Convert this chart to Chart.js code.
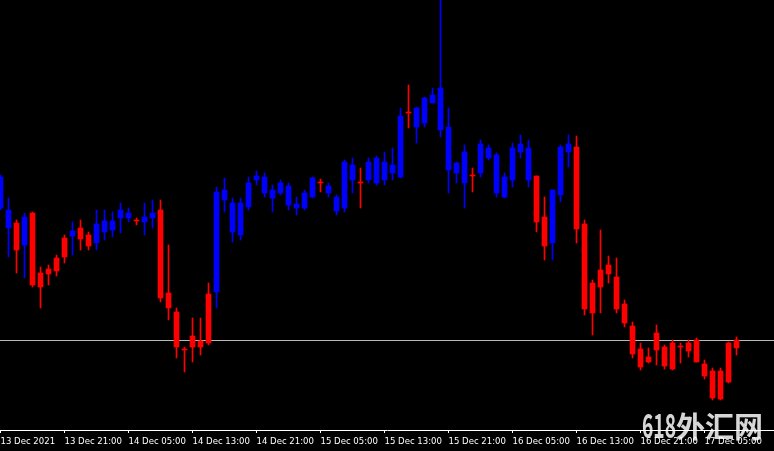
<!DOCTYPE html>
<html>
<head>
<meta charset="utf-8">
<script src="https://cdn.jsdelivr.net/npm/chart.js@4.4.1/dist/chart.umd.min.js"></script>
<style>
  html, body { margin: 0; padding: 0; background: #000; overflow: hidden; }
</style>
</head>
<body>
<canvas id="chart" width="774" height="451"></canvas>
<script>
// H1 candles, 13 Dec 2021 13:00 .. 17 Dec 2021 09:00
const opens = [
  1779.2, 1777.2, 1777.7, 1775.5, 1778.7, 1772.7, 1773.1, 1774.2, 1776.2, 1776.4,
  1777.2, 1776.5, 1775.7, 1776.8, 1777.0, 1778.2, 1778.2, 1777.9, 1777.8, 1778.2,
  1779.0, 1770.7, 1768.8, 1765.0, 1766.4, 1765.9, 1770.6, 1770.8, 1780.0, 1776.8,
  1776.5, 1779.3, 1782.0, 1780.7, 1780.2, 1780.7, 1779.5, 1779.2, 1779.2, 1780.3,
  1781.7, 1780.7, 1778.9, 1779.2, 1782.0, 1781.7, 1782.0, 1781.7, 1782.0, 1782.7,
  1782.3, 1788.7, 1787.3, 1787.7, 1789.7, 1787.0, 1783.0, 1782.7, 1781.7, 1782.4,
  1782.7, 1784.2, 1780.7, 1780.3, 1782.0, 1784.8, 1782.0, 1782.4, 1778.3, 1775.7,
  1780.5, 1784.8, 1785.3, 1777.6, 1771.7, 1773.0, 1773.5, 1772.3, 1769.6, 1767.4,
  1765.1, 1764.3, 1766.7, 1765.3, 1765.7, 1765.3, 1765.7, 1766.0, 1763.6, 1762.9,
  1762.9, 1765.7, 1766.0
];
const highs = [
  1782.5, 1780.2, 1778.0, 1778.7, 1778.8, 1773.3, 1773.5, 1774.5, 1776.5, 1777.8,
  1778.0, 1776.8, 1779.0, 1779.0, 1778.8, 1779.7, 1779.2, 1778.2, 1779.7, 1780.0,
  1780.0, 1775.5, 1769.2, 1765.3, 1768.2, 1768.2, 1771.7, 1781.3, 1782.2, 1780.2,
  1780.2, 1782.3, 1782.9, 1782.7, 1781.5, 1782.0, 1781.7, 1780.3, 1781.0, 1782.3,
  1782.1, 1781.7, 1780.5, 1784.0, 1784.2, 1783.2, 1784.2, 1784.4, 1784.8, 1785.2,
  1789.2, 1791.5, 1789.3, 1790.3, 1791.2, 1800.0, 1789.2, 1783.8, 1785.5, 1783.2,
  1786.0, 1785.5, 1784.7, 1782.7, 1785.7, 1786.5, 1786.0, 1782.4, 1780.3, 1781.0,
  1785.5, 1786.5, 1786.4, 1778.0, 1772.0, 1777.0, 1774.4, 1774.2, 1770.0, 1767.8,
  1765.7, 1765.2, 1767.5, 1765.5, 1766.0, 1765.7, 1766.0, 1766.2, 1764.0, 1763.2,
  1763.2, 1765.8, 1766.3
];
const lows = [
  1779.0, 1774.3, 1772.7, 1772.2, 1771.3, 1769.2, 1771.5, 1772.4, 1773.7, 1774.5,
  1775.0, 1775.0, 1775.0, 1776.0, 1776.3, 1776.7, 1777.8, 1777.5, 1776.5, 1777.2,
  1769.8, 1768.0, 1764.2, 1762.8, 1763.8, 1764.5, 1765.5, 1769.2, 1778.8, 1775.8,
  1776.0, 1779.0, 1781.5, 1780.3, 1778.8, 1780.5, 1779.0, 1778.5, 1779.0, 1780.2,
  1780.8, 1780.3, 1778.5, 1778.8, 1780.7, 1779.2, 1781.7, 1781.5, 1781.5, 1782.0,
  1782.2, 1787.2, 1785.7, 1787.3, 1789.7, 1786.3, 1780.7, 1781.7, 1779.2, 1780.8,
  1782.3, 1784.0, 1780.3, 1780.2, 1781.3, 1784.2, 1781.3, 1776.8, 1774.0, 1774.0,
  1779.8, 1783.3, 1775.7, 1768.5, 1766.5, 1768.7, 1771.7, 1768.7, 1767.3, 1764.2,
  1763.0, 1763.7, 1763.5, 1763.1, 1763.0, 1763.7, 1764.3, 1763.8, 1762.1, 1760.0,
  1760.0, 1761.7, 1764.5
];
const closes = [
  1782.3, 1779.0, 1775.0, 1778.3, 1771.5, 1771.3, 1772.6, 1772.9, 1774.3, 1776.9,
  1776.1, 1775.4, 1777.6, 1777.9, 1777.9, 1779.0, 1778.7, 1777.9, 1778.3, 1778.7,
  1770.2, 1769.2, 1765.3, 1765.0, 1765.3, 1765.3, 1765.7, 1780.8, 1781.0, 1779.7,
  1779.7, 1781.7, 1782.4, 1782.3, 1781.0, 1781.7, 1781.4, 1779.6, 1780.7, 1782.2,
  1781.7, 1781.4, 1780.3, 1783.8, 1783.5, 1781.7, 1783.8, 1784.2, 1783.8, 1783.5,
  1788.4, 1788.7, 1789.2, 1790.2, 1790.5, 1791.2, 1787.3, 1783.7, 1784.8, 1782.4,
  1785.6, 1785.2, 1784.5, 1782.3, 1785.2, 1785.6, 1785.2, 1777.8, 1775.4, 1781.0,
  1785.3, 1785.6, 1777.1, 1769.1, 1768.7, 1771.3, 1772.6, 1769.1, 1767.7, 1764.6,
  1763.3, 1763.8, 1765.0, 1763.4, 1763.1, 1765.3, 1764.9, 1763.8, 1762.4, 1760.2,
  1760.1, 1761.8, 1765.2
];

// time axis: one label every 8 bars
const tickIdx = [0, 8, 16, 24, 32, 40, 48, 56, 64, 72, 80, 88];
const tickLabels = [
  '13 Dec 2021', '13 Dec 21:00', '14 Dec 05:00', '14 Dec 13:00', '14 Dec 21:00', '15 Dec 05:00',
  '15 Dec 13:00', '15 Dec 21:00', '16 Dec 05:00', '16 Dec 13:00', '16 Dec 21:00', '17 Dec 05:00'
];

// horizontal price line
const priceLine = 1765.95;

const UP = '#0000ff';
const DOWN = '#ff0000';
const barColor = (ctx) => closes[ctx.dataIndex] > opens[ctx.dataIndex] ? UP : DOWN;

const bgPlugin = {
  id: 'bg',
  beforeDraw(chart) {
    const c = chart.ctx;
    c.save();
    c.fillStyle = '#000';
    c.fillRect(0, 0, chart.width, chart.height);
    // site watermark, sits under the axis
    c.fillStyle = 'rgba(232,232,232,0.92)';
    c.textBaseline = 'alphabetic';
    c.font = 'bold 33px "Noto Sans CJK SC"';
    c.fillText('618', 642, 438, 34);
    c.font = 'bold 29px "Noto Sans CJK SC"';
    c.fillText('外汇网', 676, 438, 91);
    c.restore();
  }
};

new Chart(document.getElementById('chart'), {
  type: 'bar',
  data: {
    datasets: [
      {
        label: 'wick',
        data: highs.map((h, i) => ({ x: i, y: [lows[i], h] })),
        backgroundColor: barColor,
        barThickness: 1,
        grouped: false,
        borderWidth: 0
      },
      {
        label: 'body',
        data: opens.map((o, i) => ({ x: i, y: [o, closes[i]] })),
        backgroundColor: barColor,
        barThickness: 5,
        minBarLength: 1,
        grouped: false,
        borderWidth: 0
      },
      {
        type: 'line',
        label: 'level',
        data: [{ x: -1, y: priceLine }, { x: 100, y: priceLine }],
        borderColor: '#b8b8b8',
        borderWidth: 1,
        pointRadius: 0
      }
    ]
  },
  options: {
    responsive: false,
    animation: false,
    devicePixelRatio: 1,
    events: [],
    layout: { padding: 0, autoPadding: false },
    plugins: {
      legend: { display: false },
      tooltip: { enabled: false }
    },
    scales: {
      x: {
        type: 'linear',
        offset: false,
        min: -0.0625,
        max: 96.6875,
        afterBuildTicks(scale) {
          scale.ticks = tickIdx.map(v => ({ value: v }));
        },
        afterFit(scale) {
          // plot runs edge to edge, axis strip is 21px
          scale.height = 21;
          scale.paddingLeft = 0;
          scale.paddingRight = 0;
        },
        grid: {
          offset: false,
          drawOnChartArea: false,
          drawTicks: true,
          tickLength: 3,
          color: '#ffffff'
        },
        border: { display: true, color: '#ffffff' },
        ticks: {
          autoSkip: false,
          maxRotation: 0,
          align: 'start',
          padding: 3,
          color: '#ffffff',
          font: { family: '"DejaVu Sans Condensed", "Liberation Sans"', size: 9.5 },
          callback: (v) => tickLabels[tickIdx.indexOf(v)]
        }
      },
      y: {
        type: 'linear',
        display: false,
        min: 1757.0,
        max: 1800
      }
    }
  },
  plugins: [bgPlugin]
});
</script>
</body>
</html>
